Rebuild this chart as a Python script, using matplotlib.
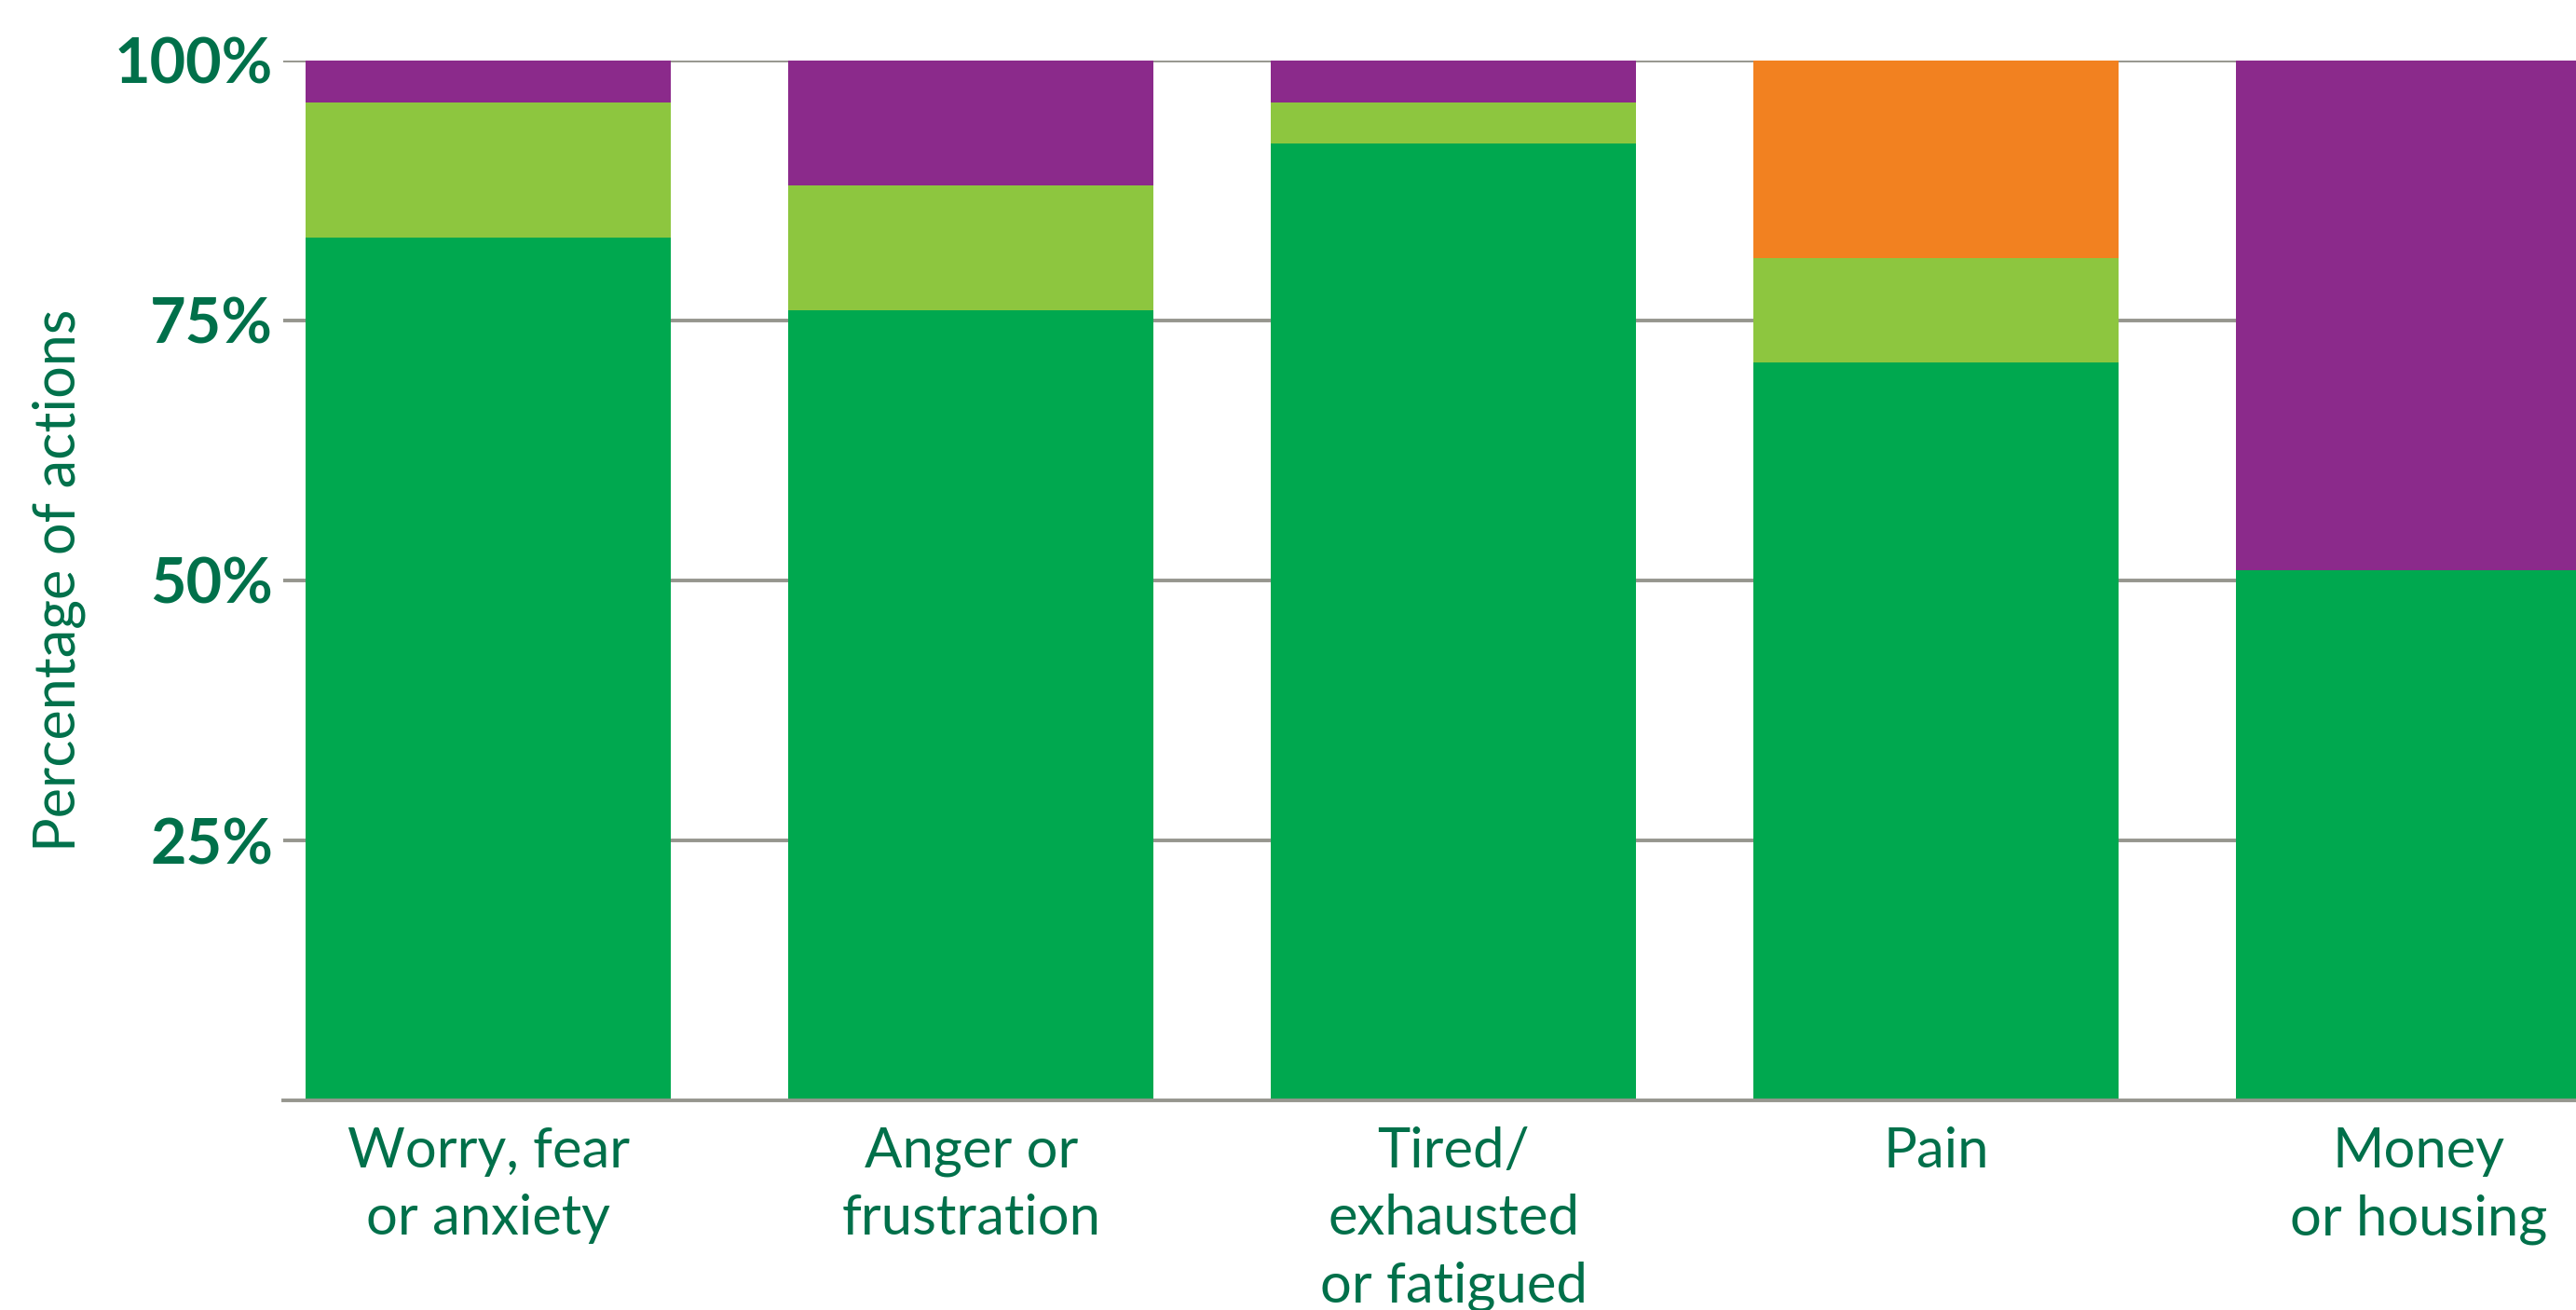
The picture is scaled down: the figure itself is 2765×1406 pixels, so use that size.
import matplotlib
matplotlib.use("Agg")
import matplotlib.pyplot as plt
import numpy as np

categories = ["Worry, fear\nor anxiety", "Anger or\nfrustration", "Tired/\nexhausted\nor fatigued", "Pain", "Money\nor housing"]
green = [83, 76, 92, 71, 51]
light_green = [13, 12, 4, 10, 0]
purple = [4, 12, 4, 0, 49]
orange = [0, 0, 0, 19, 0]
ytick_vals = [25, 50, 75, 100]
ytick_labels = ["25%", "50%", "75%", "100%"]

C_GREEN = "#00A84F"
C_LIGHT = "#8DC63F"
C_PURPLE = "#8B2A8B"
C_ORANGE = "#F28120"
C_TEXT = "#00704A"
C_GRID = "#96968E"

plt.rcParams['font.family'] = ['Lato', 'DejaVu Sans']

fig = plt.figure(figsize=(27.65, 14.06), dpi=100)
ax = fig.add_axes([0.110, 0.160, 0.890, 0.7938])

x = np.arange(len(categories))
w = 0.757
b1 = np.array(green)
b2 = b1 + np.array(light_green)
b3 = b2 + np.array(purple)
ax.bar(x, green, width=w, color=C_GREEN, zorder=2)
ax.bar(x, light_green, bottom=b1, width=w, color=C_LIGHT, zorder=2)
ax.bar(x, purple, bottom=b2, width=w, color=C_PURPLE, zorder=2)
ax.bar(x, orange, bottom=b3, width=w, color=C_ORANGE, zorder=2)

ax.set_xlim(-0.425, 4.326)
ax.set_ylim(0, 100)

for v in ytick_vals:
    ax.axhline(v, color=C_GRID, lw=2.8, zorder=1)

for s in ["top", "right", "left"]:
    ax.spines[s].set_visible(False)
ax.spines["bottom"].set_color(C_GRID)
ax.spines["bottom"].set_linewidth(2.8)
ax.spines["bottom"].set_zorder(3)

ax.set_yticks(ytick_vals)
ax.set_yticklabels(ytick_labels, fontsize=48, fontweight="bold", color=C_TEXT)
ax.tick_params(axis="y", length=0, pad=8)
ax.set_xticks(x)
ax.set_xticklabels(categories, fontsize=43, color=C_TEXT, linespacing=1.42)
ax.tick_params(axis="x", length=0, pad=20)

ax.set_ylabel("Percentage of actions", fontsize=44, color=C_TEXT, labelpad=22)

fig.savefig("out.png", dpi=100)
